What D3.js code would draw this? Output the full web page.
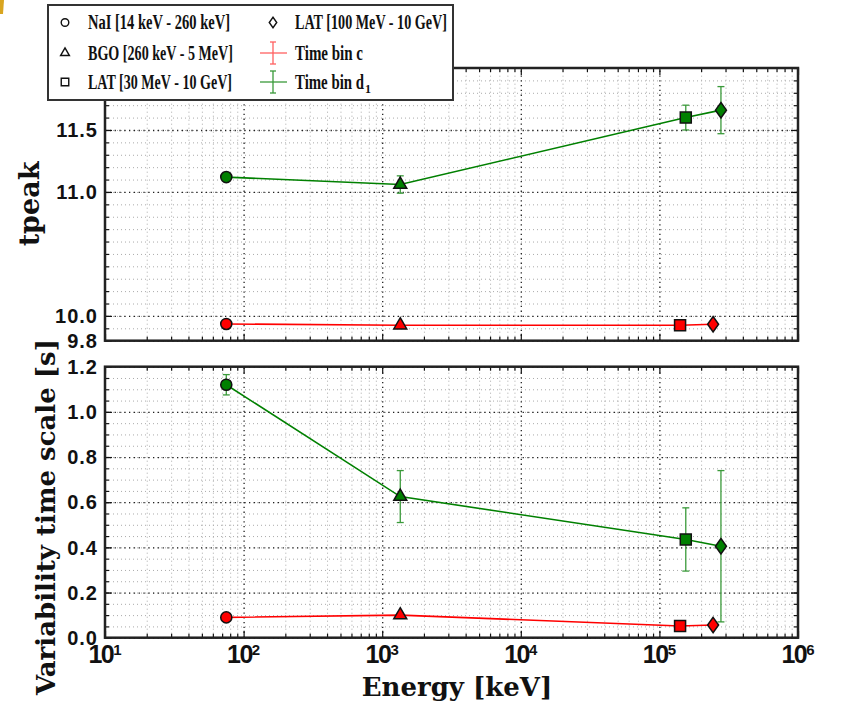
<!DOCTYPE html>
<html>
<head>
<meta charset="utf-8">
<script src="https://cdn.jsdelivr.net/npm/d3@7"></script>
<style>
  body { margin: 0; background: #fff; }
  svg { display: block; }
</style>
</head>
<body>
<svg id="chart" width="866" height="702"></svg>
<script>
// instruments, in plotting order
const instruments = ["NaI [14 keV - 260 keV]", "BGO [260 keV - 5 MeV]", "LAT [30 MeV - 10 GeV]", "LAT [100 MeV - 10 GeV]"];
const shapes = ["circle", "triangle", "square", "diamond"];

// mean energy (keV) of each point
const energyC = [75, 1350, 141000, 244000];
const energyD = [75, 1350, 155000, 278000];

// tpeak
const tpeakC = [9.935, 9.925, 9.925, 9.933];
const tpeakCErr = [0.008, 0.008, 0.008, 0.008];
const tpeakD = [11.12, 11.06, 11.60, 11.66];
const tpeakDErr = [0.02, 0.07, 0.10, 0.19];

// variability time scale [s]
const varC = [0.09, 0.10, 0.052, 0.056];
const varCErr = [0.008, 0.008, 0.008, 0.008];
const varD = [1.12, 0.625, 0.435, 0.405];
const varDErr = [0.045, 0.115, 0.14, 0.335];

const xMajor = [10, 100, 1e3, 1e4, 1e5, 1e6];
const topMajor = [9.8, 10.0, 11.0, 11.5];
const botMajor = [0, 0.2, 0.4, 0.6, 0.8, 1.0, 1.2];

const red = "#ff0000", green = "#008000";

const svg = d3.select("#chart");
svg.append("path").attr("d", "M0,0L4,0L3,14L0,14Z").attr("fill", "#d9a520");

var left = 105, right = 798;
var x = d3.scaleLog().domain([10, 1e6]).range([left, right]);
var xMinor = [];
for (let d = 10; d < 1e6; d *= 10) for (let k = 2; k <= 9; k++) xMinor.push(k * d);

function range(a, b, s) {
  var out = [];
  for (let i = 0; a + i * s <= b + 1e-9; i++) out.push(+(a + i * s).toFixed(3));
  return out;
}

function clean(g) { g.select(".domain").remove(); g.selectAll("text").remove(); }

function panel(top, bottom, domain, major, minor, xLabels) {
  var y = d3.scaleLinear().domain(domain).range([bottom, top]);
  var w = right - left, h = bottom - top;
  var g = svg.append("g");
  g.append("rect").attr("x", left).attr("y", top).attr("width", w).attr("height", h).attr("fill", "#fff");

  // minor grid
  g.append("g").attr("transform", "translate(0," + bottom + ")")
    .call(d3.axisBottom(x).tickValues(xMinor).tickSize(-h)).call(clean)
    .selectAll("line").attr("stroke", "#aaa").attr("stroke-dasharray", "1,3");
  g.append("g").attr("transform", "translate(" + left + ",0)")
    .call(d3.axisLeft(y).tickValues(minor).tickSize(-w)).call(clean)
    .selectAll("line").attr("stroke", "#aaa").attr("stroke-dasharray", "1,3");
  // major grid
  g.append("g").attr("transform", "translate(0," + bottom + ")")
    .call(d3.axisBottom(x).tickValues(xMajor.slice(1, -1)).tickSize(-h)).call(clean)
    .selectAll("line").attr("stroke", "#222").attr("stroke-width", 1.3).attr("stroke-dasharray", "1.3,3.5");
  g.append("g").attr("transform", "translate(" + left + ",0)")
    .call(d3.axisLeft(y).tickValues(major).tickSize(-w)).call(clean)
    .selectAll("line").attr("stroke", "#222").attr("stroke-width", 1.3).attr("stroke-dasharray", "1.3,3.5");

  // inward ticks on all four sides
  [[d3.axisBottom, bottom, -7, xMajor], [d3.axisBottom, bottom, -4, xMinor],
   [d3.axisTop, top, -7, xMajor], [d3.axisTop, top, -4, xMinor]].forEach(function(a) {
    g.append("g").attr("transform", "translate(0," + a[1] + ")")
      .call(a[0](x).tickValues(a[3]).tickSize(a[2])).call(clean)
      .selectAll("line").attr("stroke", "#111").attr("stroke-width", 1.2);
  });
  [[d3.axisLeft, left, -7, major], [d3.axisLeft, left, -4, minor],
   [d3.axisRight, right, -7, major], [d3.axisRight, right, -4, minor]].forEach(function(a) {
    g.append("g").attr("transform", "translate(" + a[1] + ",0)")
      .call(a[0](y).tickValues(a[3]).tickSize(a[2])).call(clean)
      .selectAll("line").attr("stroke", "#111").attr("stroke-width", 1.2);
  });

  // y tick labels
  g.selectAll(".ylab").data(major).enter().append("text")
    .attr("x", left - 7).attr("y", d => y(d)).attr("dy", "0.36em")
    .attr("text-anchor", "end")
    .style("font", "bold 20px 'Liberation Sans', Arial, sans-serif")
    .style("letter-spacing", "1px")
    .attr("fill", "#111")
    .text(d => d.toFixed(1));

  if (xLabels) {
    var t = g.selectAll(".xlab").data(xMajor).enter().append("text")
      .attr("x", d => x(d)).attr("y", bottom + 25)
      .attr("text-anchor", "middle")
      .style("font", "bold 25px 'Liberation Sans', Arial, sans-serif")
      .style("letter-spacing", "-1.5px")
      .attr("fill", "#111");
    t.append("tspan").text("10");
    t.append("tspan").attr("dy", -8).style("font-size", "15px").style("letter-spacing", "0px")
      .text(d => Math.round(Math.log10(d)));
  }

  g.append("rect").attr("x", left).attr("y", top).attr("width", w).attr("height", h)
    .attr("fill", "none").attr("stroke", "#222").attr("stroke-width", 2.5);
  return { g: g, y: y };
}

function symbolPath(shape, s) {
  if (shape === "diamond") return "M0," + (-s * 0.7) + "L" + (s * 0.5) + ",0L0," + (s * 0.7) + "L" + (-s * 0.5) + ",0Z";
  var type = { circle: d3.symbolCircle, triangle: d3.symbolTriangle, square: d3.symbolSquare }[shape];
  var size = { circle: s * s * 0.8, triangle: s * s * 0.6, square: s * s }[shape];
  return d3.symbol().type(type).size(size)();
}

function series(p, energy, vals, errs, color, errColor) {
  var pts = energy.map((e, i) => ({ e: e, v: vals[i], err: errs[i], shape: shapes[i] }));
  var y = p.y;
  p.g.append("path").datum(pts)
    .attr("d", d3.line().x(d => x(d.e)).y(d => y(d.v)))
    .attr("fill", "none").attr("stroke", color).attr("stroke-width", 1.6);
  var eb = p.g.selectAll(null).data(pts).enter().append("g").attr("stroke", errColor).attr("stroke-width", 1.3);
  eb.append("line").attr("x1", d => x(d.e)).attr("x2", d => x(d.e))
    .attr("y1", d => y(d.v - d.err)).attr("y2", d => y(d.v + d.err));
  [-1, 1].forEach(function(s) {
    eb.append("line").attr("x1", d => x(d.e) - 3.5).attr("x2", d => x(d.e) + 3.5)
      .attr("y1", d => y(d.v + s * d.err)).attr("y2", d => y(d.v + s * d.err));
  });
  p.g.selectAll(null).data(pts).enter().append("path")
    .attr("transform", d => "translate(" + x(d.e) + "," + y(d.v) + ")")
    .attr("d", d => symbolPath(d.shape, 11))
    .attr("fill", color).attr("stroke", "#111").attr("stroke-width", 1.5);
}

var pTop = panel(68, 340.7, [9.8, 12.0], topMajor, range(9.8, 12.0, 0.1), false);
series(pTop, energyC, tpeakC, tpeakCErr, red, "#ff5050");
series(pTop, energyD, tpeakD, tpeakDErr, green, "#3a9a3a");

var pBot = panel(366.7, 637.7, [0, 1.2], botMajor, range(0, 1.2, 0.05), true);
series(pBot, energyC, varC, varCErr, red, "#ff5050");
series(pBot, energyD, varD, varDErr, green, "#3a9a3a");

// axis titles
svg.append("text").attr("x", 457).attr("y", 696).attr("text-anchor", "middle")
  .style("font", "bold 26px 'DejaVu Serif', serif").attr("fill", "#111").text("Energy [keV]");
svg.append("text").attr("transform", "translate(39,204) rotate(-90)").attr("text-anchor", "middle")
  .style("font", "bold 27px 'DejaVu Serif', serif").attr("fill", "#111").text("tpeak");
svg.append("text").attr("transform", "translate(55,517) rotate(-90)").attr("text-anchor", "middle")
  .style("font", "bold 26px 'DejaVu Serif', serif").attr("fill", "#111").text("Variability time scale [s]");

// legend
var leg = svg.append("g");
leg.append("rect").attr("x", 48).attr("y", 5).attr("width", 405).attr("height", 95)
  .attr("fill", "#fff").attr("stroke", "#333").attr("stroke-width", 2);
var rowsY = [22.5, 53, 82];
var legItems = [
  { col: 0, row: 0, kind: "circle", label: instruments[0], w: 142 },
  { col: 0, row: 1, kind: "triangle", label: instruments[1], w: 145 },
  { col: 0, row: 2, kind: "square", label: instruments[2], w: 144 },
  { col: 1, row: 0, kind: "diamond", label: instruments[3], w: 152 },
  { col: 1, row: 1, kind: "err", color: "#ff6060", label: "Time bin c", w: 68 },
  { col: 1, row: 2, kind: "err", color: "#3a9a3a", label: "Time bin d", sub: "1", w: 69 }
];
var symX = [65, 273], txtX = [88, 295];
legItems.forEach(function(it) {
  var cy = rowsY[it.row], cx = symX[it.col];
  if (it.kind === "err") {
    var eg = leg.append("g").attr("stroke", it.color).attr("stroke-width", 1.3);
    eg.append("line").attr("x1", cx - 13).attr("x2", cx + 14).attr("y1", cy).attr("y2", cy);
    eg.append("line").attr("x1", cx).attr("x2", cx).attr("y1", cy - 11).attr("y2", cy + 11);
    eg.append("line").attr("x1", cx - 3).attr("x2", cx + 3).attr("y1", cy - 11).attr("y2", cy - 11);
    eg.append("line").attr("x1", cx - 3).attr("x2", cx + 3).attr("y1", cy + 11).attr("y2", cy + 11);
  } else {
    leg.append("path").attr("transform", "translate(" + cx + "," + cy + ")")
      .attr("d", symbolPath(it.kind, 7.5)).attr("fill", "#fff").attr("stroke", "#111").attr("stroke-width", 1.4);
  }
  var font = "bold 20px 'Liberation Serif', 'Times New Roman', serif";
  leg.append("text").attr("x", txtX[it.col]).attr("y", cy + 6.5)
    .style("font", font).attr("fill", "#111")
    .attr("textLength", it.w).attr("lengthAdjust", "spacingAndGlyphs")
    .text(it.label);
  if (it.sub) {
    leg.append("text").attr("x", txtX[it.col] + it.w + 1).attr("y", cy + 10.5)
      .style("font", "bold 12px 'Liberation Serif', serif").attr("fill", "#111").text(it.sub);
  }
});
</script>
</body>
</html>
